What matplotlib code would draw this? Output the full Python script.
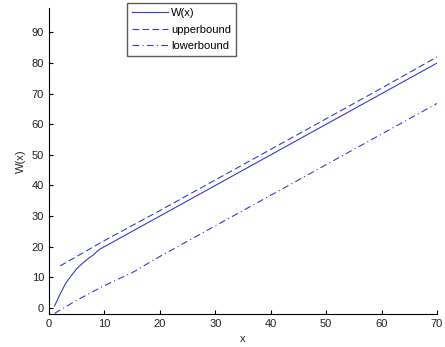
import matplotlib.pyplot as plt

plt.rcParams['font.family'] = ['Liberation Sans', 'DejaVu Sans']

# W(x) curve
w_x = [1, 2, 3, 4, 5, 6, 7, 8, 9, 10, 20, 30, 40, 50, 60, 70]
w_y = [0.6, 4.5, 8.0, 10.5, 12.8, 14.5, 16.0, 17.3, 19.0, 20.0, 30.0, 40.0, 50.0, 60.0, 70.0, 80.0]

# upper bound
up_x = [2, 10, 20, 30, 40, 50, 60, 70]
up_y = [13.7, 22.0, 31.8, 41.8, 51.8, 61.8, 71.8, 82.0]

# lower bound
lo_x = [1, 5, 10, 12, 15, 20, 30, 40, 50, 60, 70]
lo_y = [-1.8, 2.5, 7.3, 9.0, 11.5, 16.8, 26.8, 36.8, 46.8, 56.8, 66.8]

line_color = '#3a3acc'
text_color = '#222222'

fig = plt.figure(figsize=(4.45, 3.47), dpi=100)
ax = fig.add_axes([49/445, 33/347, 388/445, 306/347])

ax.plot(w_x, w_y, '-', color=line_color, lw=0.8, label='W(x)')
ax.plot(up_x, up_y, '--', color=line_color, lw=0.8, dashes=(6, 3), label='upperbound')
ax.plot(lo_x, lo_y, '-.', color=line_color, lw=0.8, dashes=(6, 3, 1, 3), label='lowerbound')

ax.set_xlim(0, 70)
ax.set_ylim(-2, 98)
ax.set_xticks(range(0, 71, 10))
ax.set_yticks(range(0, 91, 10))
ax.spines['top'].set_visible(False)
ax.spines['right'].set_visible(False)
ax.tick_params(labelsize=8, direction='in', length=3, width=0.8, labelcolor=text_color)
ax.set_xlabel('x', fontsize=8, color=text_color)
ax.set_ylabel('W(x)', fontsize=8, color=text_color)

fig.legend(loc='upper left', bbox_to_anchor=(127/445, 1 - 3/347), borderaxespad=0,
           fontsize=8, frameon=True, fancybox=False, edgecolor='#333333',
           handlelength=3.2, borderpad=0.45, labelspacing=0.6, handletextpad=0.3)

fig.savefig('out.png', dpi=100)
